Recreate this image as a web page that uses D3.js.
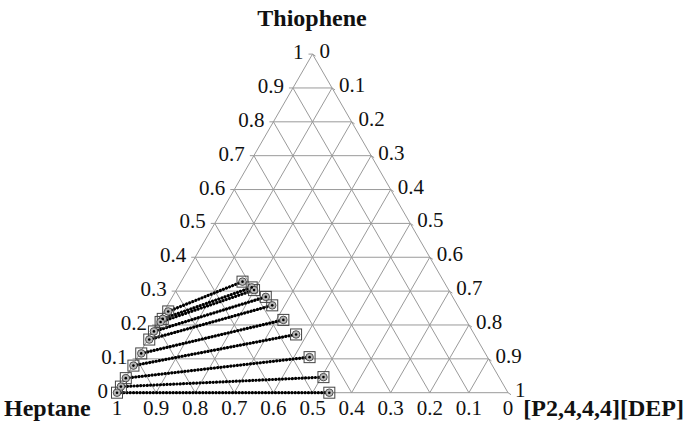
<!DOCTYPE html>
<html>
<head>
<meta charset="utf-8">
<script src="https://cdn.jsdelivr.net/npm/d3@7"></script>
<style>
  body { margin: 0; background: #fff; }
  svg { display: block; font-family: "Liberation Serif", "Times New Roman", serif; }
</style>
</head>
<body>
<svg id="chart"></svg>
<script>
var width = 687,
    height = 437;

// tick values shared by the three axes
const ticks = [0, 0.1, 0.2, 0.3, 0.4, 0.5, 0.6, 0.7, 0.8, 0.9, 1];
const tickLabels = ["0", "0.1", "0.2", "0.3", "0.4", "0.5", "0.6", "0.7", "0.8", "0.9", "1"];

// tie lines: heptane-rich phase (left) and IL-rich phase (right), mass fractions
const raffThiophene = [0.240, 0.218, 0.209, 0.181, 0.157, 0.116, 0.080, 0.043, 0.018, 0.000];
const raffIL        = [0.011, 0.008, 0.007, 0.004, 0.004, 0.004, 0.002, 0.001, 0.001, 0.000];
const extrThiophene = [0.328, 0.311, 0.303, 0.283, 0.258, 0.215, 0.172, 0.105, 0.046, 0.000];
const extrIL        = [0.157, 0.189, 0.199, 0.239, 0.268, 0.318, 0.372, 0.440, 0.505, 0.543];

let svg = d3.select("#chart")
    .attr("width", width)
    .attr("height", height);

// cartesian scales for the ternary projection
let x = d3.scaleLinear().domain([0, 1]).range([117, 508]);
let y = d3.scaleLinear().domain([0, 1]).range([392.7, 54.1]);

// t = thiophene, p = [P2,4,4,4][DEP]; heptane = 1 - t - p
let proj = (t, p) => [x(p + t / 2), y(t)];

let grid = svg.append("g")
    .attr("stroke", "#9a9a9a")
    .attr("stroke-width", 1)
    .attr("fill", "none");

let line = d3.line();

for (let v of ticks) {
    // constant thiophene
    grid.append("path").attr("d", line([proj(v, 0), proj(v, 1 - v)]));
    // constant IL
    grid.append("path").attr("d", line([proj(0, v), proj(1 - v, v)]));
    // constant heptane
    grid.append("path").attr("d", line([proj(1 - v, 0), proj(0, 1 - v)]));
}

// small outward ticks
for (let v of ticks) {
    let [lx, ly] = proj(v, 0);
    grid.append("path").attr("d", line([[lx, ly], [lx - 4, ly]]));
    let [rx, ry] = proj(1 - v, v);
    grid.append("path").attr("d", line([[rx, ry], [rx + 3, ry + 2]]));
}

// axis labels
let labels = svg.append("g")
    .attr("font-size", 21)
    .attr("fill", "#111");

// left: thiophene, 0 at bottom to 1 at top
labels.selectAll(".lt")
    .data(ticks)
    .join("text")
    .attr("x", d => proj(d, 0)[0] - 9)
    .attr("y", d => proj(d, 0)[1] - 2)
    .attr("text-anchor", "end")
    .attr("dominant-baseline", "central")
    .text((d, i) => tickLabels[i]);

// right: IL, 0 at top to 1 at bottom right
labels.selectAll(".rt")
    .data(ticks)
    .join("text")
    .attr("x", d => proj(1 - d, d)[0] + 7)
    .attr("y", d => proj(1 - d, d)[1] - 3)
    .attr("text-anchor", "start")
    .attr("dominant-baseline", "central")
    .text((d, i) => tickLabels[i]);

// bottom: heptane, 1 at left to 0 at right
labels.selectAll(".bt")
    .data(ticks)
    .join("text")
    .attr("x", d => proj(0, 1 - d)[0])
    .attr("y", 415)
    .attr("text-anchor", "middle")
    .text((d, i) => tickLabels[i]);

// component titles
let titles = svg.append("g")
    .attr("font-size", 24)
    .attr("font-weight", "bold")
    .attr("fill", "#111");

titles.append("text")
    .attr("x", 312)
    .attr("y", 26)
    .attr("text-anchor", "middle")
    .text("Thiophene");

titles.append("text")
    .attr("x", 4)
    .attr("y", 416)
    .text("Heptane");

titles.append("text")
    .attr("x", 684)
    .attr("y", 416)
    .attr("text-anchor", "end")
    .text("[P2,4,4,4][DEP]");

// tie lines
let ties = raffThiophene.map((t, i) => ({
    a: proj(t, raffIL[i]),
    b: proj(extrThiophene[i], extrIL[i])
}));

svg.append("g")
    .selectAll("path")
    .data(ties)
    .join("path")
    .attr("d", d => line([d.a, d.b]))
    .attr("stroke", "#000")
    .attr("stroke-width", 3.2)
    .attr("stroke-linecap", "round")
    .attr("stroke-dasharray", "0.1,3.2")
    .attr("fill", "none");

let ends = ties.flatMap(d => [d.a, d.b]);

let marks = svg.append("g");

marks.selectAll("rect")
    .data(ends)
    .join("rect")
    .attr("x", d => d[0] - 5.5)
    .attr("y", d => d[1] - 5.5)
    .attr("width", 11)
    .attr("height", 11)
    .attr("fill", "none")
    .attr("stroke", "#444")
    .attr("stroke-width", 1);

marks.selectAll("circle.o")
    .data(ends)
    .join("circle")
    .attr("class", "o")
    .attr("cx", d => d[0])
    .attr("cy", d => d[1])
    .attr("r", 3.8)
    .attr("fill", "#b5b5b5")
    .attr("stroke", "#333")
    .attr("stroke-width", 0.8);

marks.selectAll("circle.c")
    .data(ends)
    .join("circle")
    .attr("class", "c")
    .attr("cx", d => d[0])
    .attr("cy", d => d[1])
    .attr("r", 1.3)
    .attr("fill", "#000");
</script>
</body>
</html>
